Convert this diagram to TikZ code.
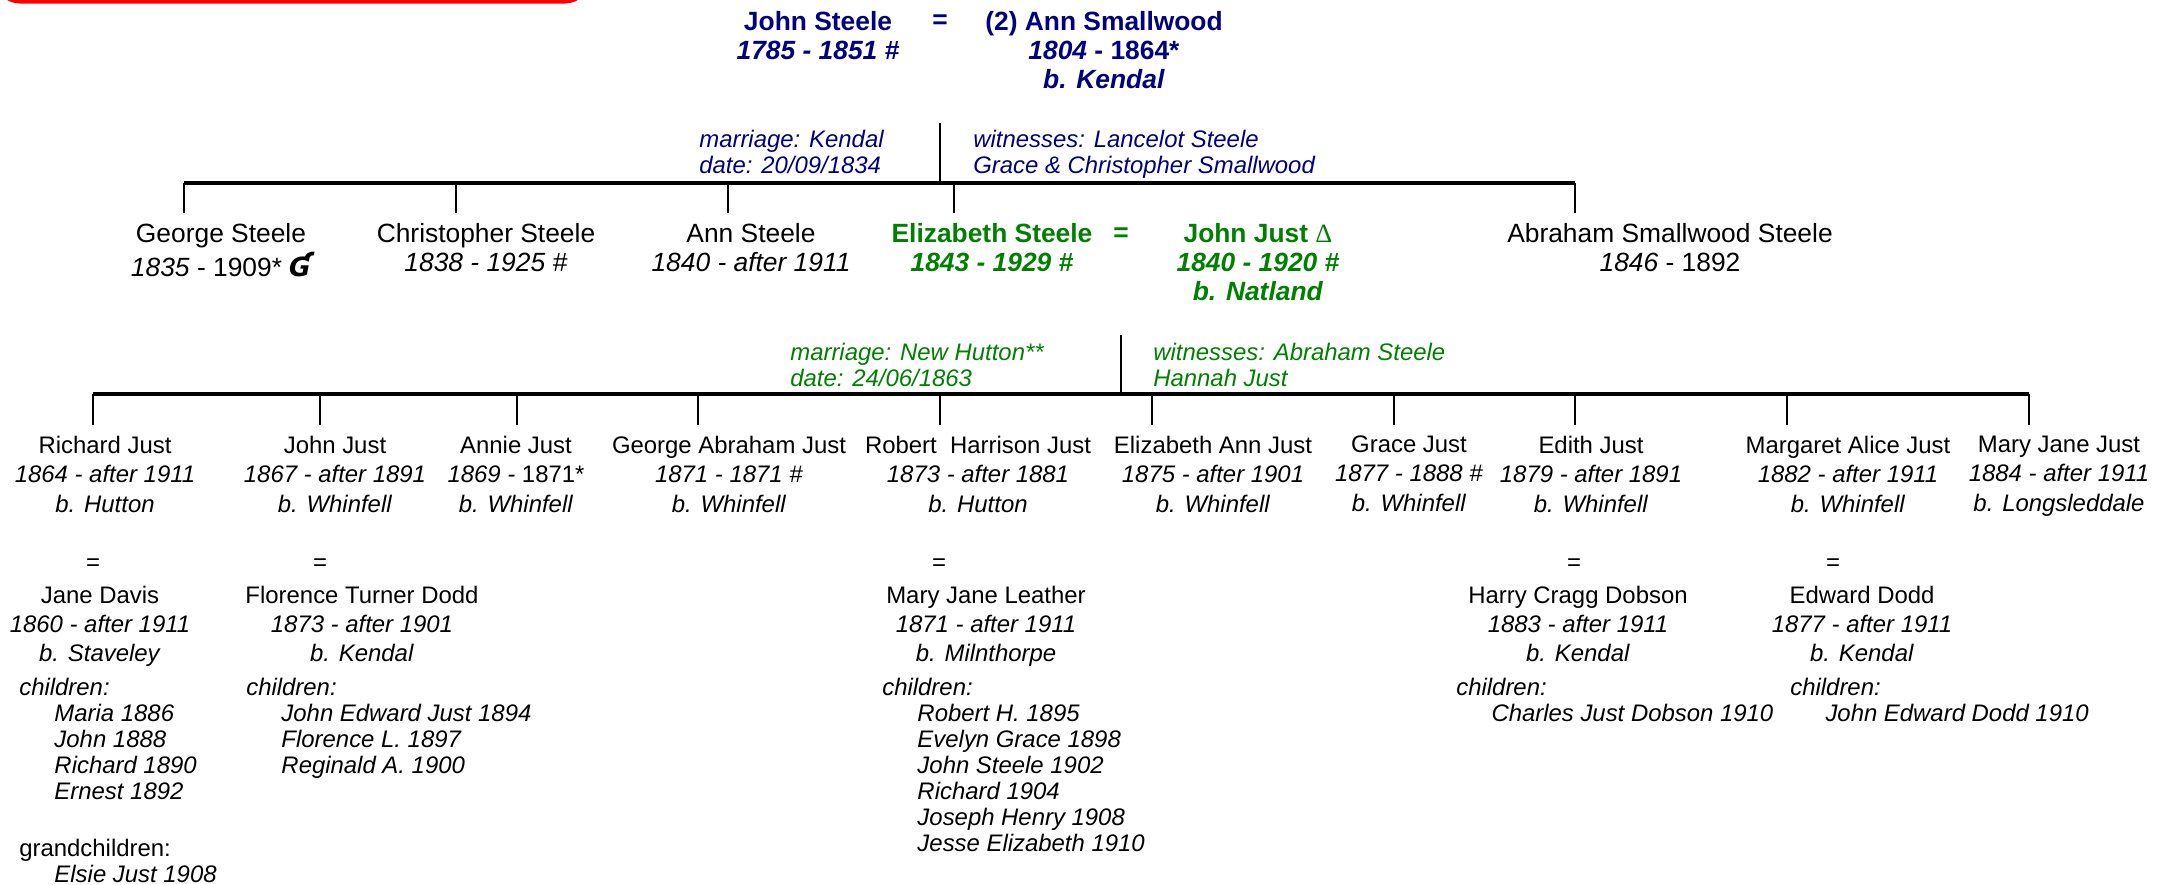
\documentclass[tikz,border=0pt]{standalone}
\usepackage{fontspec}
\setmainfont{Liberation Sans}
\newfontfamily\hookfont{DejaVu Sans}
\newfontfamily\deltafont{Liberation Serif}
\definecolor{navy}{RGB}{0,0,128}
\definecolor{leaf}{RGB}{0,128,0}
\newcommand{\kidind}{\hspace*{10pt}}
\begin{document}
\begin{tikzpicture}
[x=0.01cm, y=-0.01cm, line width=0.75pt,
elder/.style={align=center, inner sep=0pt, anchor=north, font=\fontsize{7.5}{8.25}\selectfont},
topline/.style={elder, text=navy, font=\fontsize{7.5}{8.25}\selectfont\bfseries},
greenline/.style={elder, text=leaf, font=\fontsize{7.5}{8.25}\selectfont\bfseries},
eqsign/.style={inner sep=0pt, font=\fontsize{7.5}{8.25}\selectfont\bfseries},
kin/.style={align=center, inner sep=0pt, anchor=north, font=\fontsize{6.8}{8.4}\selectfont},
spouse/.style={align=center, inner sep=0pt, anchor=north, font=\fontsize{6.8}{8.25}\selectfont},
kineq/.style={inner sep=0pt, font=\fontsize{6.8}{8.25}\selectfont},
note/.style={align=left, inner sep=0pt, anchor=north west, font=\fontsize{6.8}{7.4}\selectfont\itshape},
issue/.style={align=left, inner sep=0pt, anchor=north west, font=\fontsize{6.8}{7.4}\selectfont},
bar/.style={line width=1pt}]

\useasboundingbox (0,0) rectangle (2158,884);
\begin{scope}
\clip (0,0) rectangle (2158,884);
\fill[red, rounded corners=0.26cm] (-6,-40) rectangle (591,3.5);
\end{scope}

\node[topline] (john) at (818,10.5) {John Steele\\\textit{1785 - 1851 \#}};
\node[eqsign, text=navy] (eq1) at (940,22) {=};
\node[topline] (ann) at (1104,10.5) {(2) Ann Smallwood\\\textit{1804} - 1864*\\\textit{b. Kendal}};

\coordinate (m1) at (940,123);
\coordinate (bar1w) at (184,183);
\coordinate (bar1e) at (1575,183);
\node[note, text=navy] (wed1) at (698,128.4) {marriage: Kendal\\date: 20/09/1834};
\node[note, text=navy] (wit1) at (972,128.4) {witnesses: Lancelot Steele\\Grace \& Christopher Smallwood};
\draw[bar] (bar1w) -- (bar1e);
\draw (m1) -- (m1|-bar1w);
\foreach \dx [count=\n] in {184,456,728,954,1575}
  {\coordinate (s\n) at (\dx,213); \draw (s\n|-bar1w) -- (s\n);}

\node[elder] (george) at (221,222.5) {George Steele\\\textit{1835} - 1909* {\hookfont\bfseries\itshape Ɠ}};
\node[elder] (christopher) at (486,222.5) {Christopher Steele\\\textit{1838 - 1925 \#}};
\node[elder] (annst) at (751,222.5) {Ann Steele\\\textit{1840 - after 1911}};
\node[greenline] (eliz) at (992,222.5) {Elizabeth Steele\\\textit{1843 - 1929 \#}};
\node[eqsign, text=leaf] (eq2) at (1121,234.5) {=};
\node[greenline] (johnjust) at (1258,222.5) {John Just {\deltafont\mdseries Δ}\\\textit{1840 - 1920 \#}\\\textit{b. Natland}};
\node[elder] (abraham) at (1670,222.5) {Abraham Smallwood Steele\\\textit{1846} - 1892};

\coordinate (m2) at (1121,335);
\coordinate (bar2w) at (93,394);
\coordinate (bar2e) at (2029,394);
\node[note, text=leaf] (wed2) at (789,341.4) {marriage: New Hutton**\\date: 24/06/1863};
\node[note, text=leaf] (wit2) at (1152,341.4) {witnesses: Abraham Steele\\Hannah Just};
\draw[bar] (bar2w) -- (bar2e);
\draw (m2) -- (m2|-bar2w);
\foreach \dx [count=\n] in {93,320,517,698,940,1152,1394,1575,1787,2029}
  {\coordinate (k\n) at (\dx,425); \draw (k\n|-bar2w) -- (k\n);}

\node[kin] (richard) at (105,434.4) {Richard Just\\\textit{1864 - after 1911}\\\textit{b. Hutton}};
\node[kin] (johnj) at (335,434.4) {John Just\\\textit{1867 - after 1891}\\\textit{b. Whinfell}};
\node[kin] (annie) at (516,434.4) {Annie Just\\\textit{1869 - }1871*\\\textit{b. Whinfell}};
\node[kin] (georgej) at (729,434.4) {George Abraham Just\\\textit{1871 - 1871 \#}\\\textit{b. Whinfell}};
\node[kin] (robert) at (978,434.4) {Robert\ \ Harrison Just\\\textit{1873 - after 1881}\\\textit{b. Hutton}};
\node[kin] (elizann) at (1213,434.4) {Elizabeth Ann Just\\\textit{1875 - after 1901}\\\textit{b. Whinfell}};
\node[kin] (grace) at (1409,434.4) {Grace Just\\\textit{1877 - 1888 \#}\\\textit{b. Whinfell}};
\node[kin] (edith) at (1591,434.4) {Edith Just\\\textit{1879 - after 1891}\\\textit{b. Whinfell}};
\node[kin] (margaret) at (1848,434.4) {Margaret Alice Just\\\textit{1882 - after 1911}\\\textit{b. Whinfell}};
\node[kin] (maryjane) at (2059,434.4) {Mary Jane Just\\\textit{1884 - after 1911}\\\textit{b. Longsleddale}};

\node[kineq] (eq3) at (93,565) {=};
\node[kineq] (eq4) at (320,565) {=};
\node[kineq] (eq5) at (939,565) {=};
\node[kineq] (eq6) at (1574,565) {=};
\node[kineq] (eq7) at (1833,565) {=};

\node[spouse] (jane) at (100,584.4) {Jane Davis\\\textit{1860 - after 1911}\\\textit{b. Staveley}};
\node[spouse] (florence) at (362,584.4) {Florence Turner Dodd\\\textit{1873 - after 1901}\\\textit{b. Kendal}};
\node[spouse] (leather) at (986,584.4) {Mary Jane Leather\\\textit{1871 - after 1911}\\\textit{b. Milnthorpe}};
\node[spouse] (harry) at (1578,584.4) {Harry Cragg Dobson\\\textit{1883 - after 1911}\\\textit{b. Kendal}};
\node[spouse] (edward) at (1862,584.4) {Edward Dodd\\\textit{1877 - after 1911}\\\textit{b. Kendal}};

\node[note] (kids1) at (18,676.4) {children:\\\kidind Maria 1886\\\kidind John 1888\\\kidind Richard 1890\\\kidind Ernest 1892};
\node[note] (kids2) at (245,676.4) {children:\\\kidind John Edward Just 1894\\\kidind Florence L. 1897\\\kidind Reginald A. 1900};
\node[note] (kids3) at (881,676.4) {children:\\\kidind Robert H. 1895\\\kidind Evelyn Grace 1898\\\kidind John Steele 1902\\\kidind Richard 1904\\\kidind Joseph Henry 1908\\\kidind Jesse Elizabeth 1910};
\node[note] (kids4) at (1455,676.4) {children:\\\kidind Charles Just Dobson 1910};
\node[note] (kids5) at (1789,676.4) {children:\\\kidind John Edward Dodd 1910};
\node[issue] (grand1) at (18,837.4) {grandchildren:\\\kidind\textit{Elsie Just 1908}};
\end{tikzpicture}
\end{document}
